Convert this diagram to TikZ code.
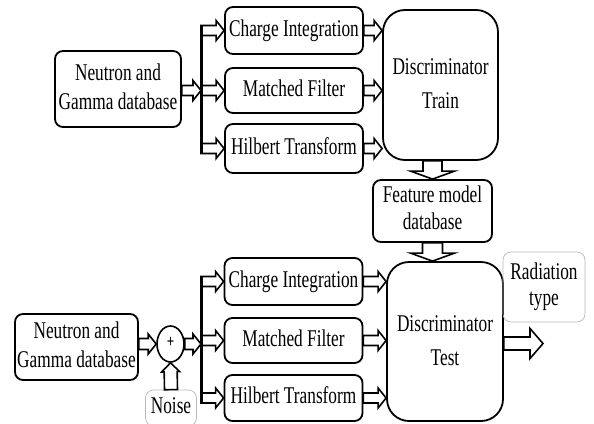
\documentclass[tikz,border=0pt]{standalone}
\usepackage{fontspec}
\usepackage{graphicx}
\setmainfont{Liberation Serif}
\usetikzlibrary{calc,shapes.geometric}

% narrow centred text block
\newcommand\sq[1]{\scalebox{0.72}[1]{\begin{tabular}{@{}c@{}}#1\end{tabular}}}

\tikzset{
  txt/.style={font=\fontsize{24}{29}\selectfont},
  box/.style={draw, line width=1.8pt, rounded corners=8pt, minimum width=138pt,
    minimum height=47pt, inner sep=0pt, align=center, txt},
  bigbox/.style={box, rounded corners=22pt, font=\fontsize{24}{34}\selectfont},
  softbox/.style={draw=black!28, line width=0.7pt, rounded corners=8pt,
    inner sep=0pt, align=center, txt},
  arrowbody/.style={draw, fill=white, line width=1.6pt, line join=miter},
  spine/.style={draw, line width=3pt},
}

% hollow block arrow: start, end, shaft half-width, head half-width, head length
\newcommand\blockarrow[5]{%
  \coordinate (ba-a) at (#1);
  \coordinate (ba-b) at (#2);
  \coordinate (ba-c) at ($(ba-b)!#5!(ba-a)$);
  \draw[arrowbody]
    ($(ba-a)!#3!90:(ba-b)$) -- ($(ba-c)!#3!90:(ba-b)$) --
    ($(ba-c)!#4!90:(ba-b)$) -- (ba-b) --
    ($(ba-c)!#4!-90:(ba-b)$) -- ($(ba-c)!#3!-90:(ba-b)$) --
    ($(ba-a)!#3!-90:(ba-b)$) -- cycle;
}

\begin{document}
\begin{tikzpicture}[x=1pt,y=-1pt]
\useasboundingbox (0,0) rectangle (594,423);
\clip (0,0) rectangle (594,423);

% ---------- training chain ----------
\node[box, minimum width=126pt, minimum height=76pt] (nA) at (118,89) {\sq{Neutron and\\Gamma database}};
\node[box] (ci1) at (294,30.5) {\sq{Charge Integration}};
\node[box, minimum height=45pt] (mf1) at (294,90.5) {\sq{Matched Filter}};
\node[box, minimum height=49pt] (ht1) at (294,148.5) {\sq{Hilbert Transform}};
\node[bigbox, minimum width=115pt, minimum height=150pt] (dt) at (440.5,85) {\sq{Discriminator\\Train}};
\node[box, minimum width=119pt, minimum height=62pt, font=\fontsize{24}{27}\selectfont] (fm) at (432.5,211) {\sq{Feature model\\database}};

\coordinate (sA) at (201,0);
\blockarrow{nA.east |- mf1.west}{sA |- mf1.west}{5pt}{10pt}{8pt}
\blockarrow{sA |- ci1.west}{ci1.west}{5pt}{10pt}{8pt}
\blockarrow{sA |- mf1.west}{mf1.west}{5pt}{10pt}{8pt}
\blockarrow{sA |- ht1.west}{ht1.west}{5pt}{10pt}{8pt}
\draw[spine] ($(sA |- ci1.west)+(0,-5)$) -- ($(sA |- ht1.west)+(0,5)$);

\blockarrow{ci1.east}{dt.west |- ci1.east}{5pt}{10pt}{8pt}
\blockarrow{mf1.east}{dt.west |- mf1.east}{5pt}{10pt}{8pt}
\blockarrow{ht1.east}{dt.west |- ht1.east}{5pt}{10pt}{8pt}

\blockarrow{fm.north |- dt.south}{fm.north}{9.5pt}{22pt}{8pt}

% ---------- test chain ----------
\node[box, minimum width=123pt, minimum height=66pt] (nB) at (76.5,347) {\sq{Neutron and\\Gamma database}};
\node[draw, ellipse, line width=1.6pt, minimum width=27pt, minimum height=36pt, inner sep=0pt,
  font=\fontsize{18}{18}\selectfont\bfseries] (pl) at (170.5,344) {\sq{+}};
\node[softbox, minimum width=51pt, minimum height=36pt] (nz) at (171,408) {\sq{Noise}};
\node[box] (ci2) at (293.5,281.5) {\sq{Charge Integration}};
\node[box, minimum height=45pt] (mf2) at (293.5,340.5) {\sq{Matched Filter}};
\node[box, minimum height=46pt] (ht2) at (293.5,398) {\sq{Hilbert Transform}};
\node[bigbox, minimum width=116pt, minimum height=159pt] (tt) at (445,341.5) {\sq{Discriminator\\Test}};
\node[softbox, minimum width=82pt, minimum height=70pt, font=\fontsize{24}{26}\selectfont] (rt) at (544,287) {\sq{Radiation\\type}};

\blockarrow{fm.south}{fm.south |- tt.north}{10pt}{22pt}{8pt}

\blockarrow{nB.east |- pl.west}{pl.west}{5.5pt}{10pt}{8pt}
\blockarrow{nz.north}{pl.south}{6.5pt}{9pt}{9pt}
\coordinate (sB) at (201,0);
\blockarrow{pl.east}{sB |- pl.east}{5.5pt}{10pt}{8pt}
\blockarrow{sB |- ci2.west}{ci2.west}{5pt}{10pt}{8pt}
\blockarrow{sB |- mf2.west}{mf2.west}{5pt}{10pt}{8pt}
\blockarrow{sB |- ht2.west}{ht2.west}{5pt}{10pt}{8pt}
\draw[spine] ($(sB |- ci2.west)+(0,-5)$) -- ($(sB |- ht2.west)+(0,5)$);

\blockarrow{ci2.east}{tt.west |- ci2.east}{5pt}{10pt}{8pt}
\blockarrow{mf2.east}{tt.west |- mf2.east}{5pt}{10pt}{8pt}
\blockarrow{ht2.east}{tt.west |- ht2.east}{5pt}{10pt}{8pt}

\coordinate (out) at (543,343.5);
\blockarrow{tt.east |- out}{out}{6.5pt}{15pt}{13pt}
\end{tikzpicture}
\end{document}
